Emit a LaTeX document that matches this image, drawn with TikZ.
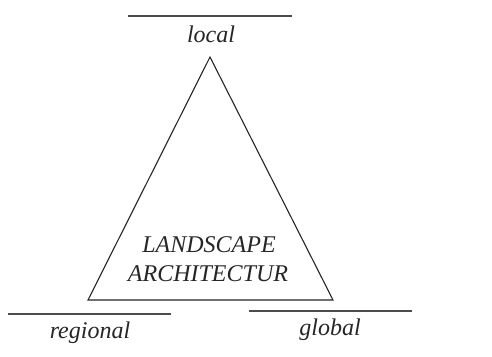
\documentclass[tikz,border=0pt]{standalone}
\usepackage{fontspec}
\setmainfont{Liberation Serif}
\begin{document}
\begin{tikzpicture}[x=1pt,y=-1pt,
  rule/.style={draw=black!70,line width=1.4pt},
  tri/.style={draw=black!85,line width=1.1pt},
  lbl/.style={font=\fontsize{24}{28}\selectfont\itshape,text=black!85,anchor=base,inner sep=0pt}]
\useasboundingbox[fill=white] (0,0) rectangle (492,356);
\coordinate (t1) at (128,16); \coordinate (t2) at (292,16);
\coordinate (r1) at (8,314); \coordinate (r2) at (171,314);
\coordinate (g1) at (249,311); \coordinate (g2) at (412,311);
\draw[rule] (t1) -- (t2);
\draw[rule] (r1) -- (r2);
\draw[rule] (g1) -- (g2);
\coordinate (apex) at (210,57); \coordinate (bl) at (88,300); \coordinate (br) at (333,300);
\draw[tri,line join=miter] (apex) -- (bl) -- (br) -- cycle;
\node[lbl] (local) at (211,42) {local};
\node[lbl] (la) at (209,252) {LANDSCAPE};
\node[lbl] (ar) at (208,281) {ARCHITECTUR};
\node[lbl] (reg) at (90,338) {regional};
\node[lbl] (glo) at (330,335) {global};
\end{tikzpicture}
\end{document}
